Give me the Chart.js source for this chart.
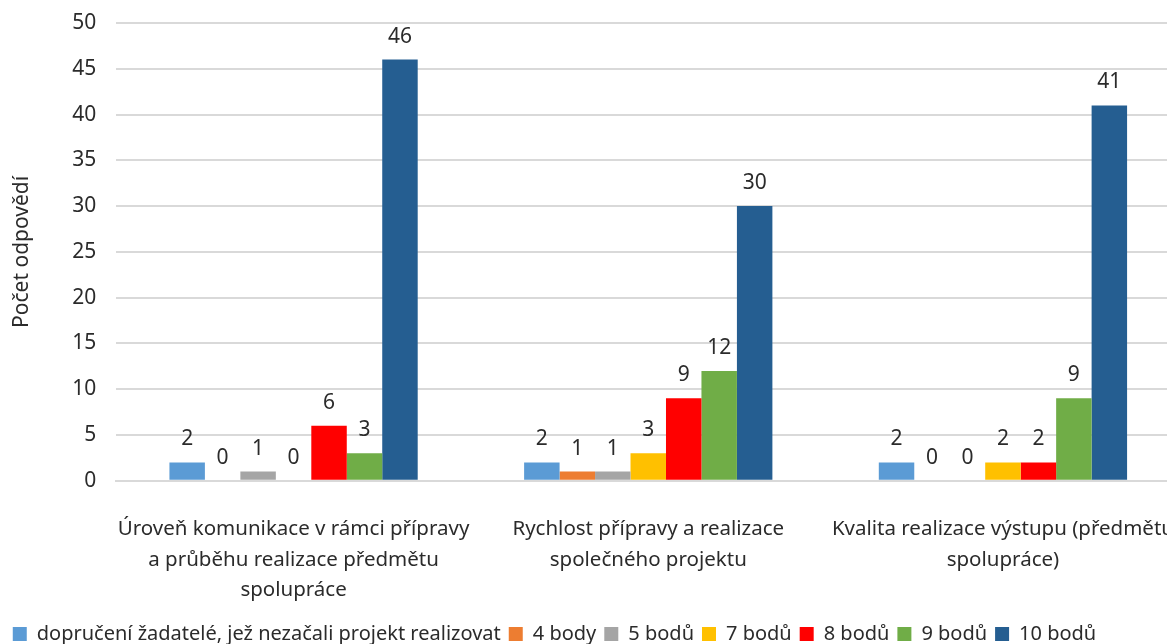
<!DOCTYPE html>
<html>
<head>
<meta charset="utf-8">
<script src="https://cdn.jsdelivr.net/npm/chart.js@4/dist/chart.umd.min.js"></script>
<style>
  html, body { margin: 0; padding: 0; background: #fff; overflow: hidden; }
  #wrap { width: 1199px; height: 644px; }
</style>
</head>
<body>
<div id="wrap"><canvas id="ratingChart"></canvas></div>
<script>
// categories (x axis)
const categories = [
    ['Úroveň komunikace v rámci přípravy', 'a průběhu realizace předmětu', 'spolupráce'],
    ['Rychlost přípravy a realizace', 'společného projektu'],
    ['Kvalita realizace výstupu (předmětu', 'spolupráce)']
];

// series names and values
const seriesNames = ['dopručení žadatelé, jež nezačali projekt realizovat', '4 body', '5 bodů', '7 bodů', '8 bodů', '9 bodů', '10 bodů'];
const recommended = [2, 2, 2];
const points4 = [0, 1, 0];
const points5 = [1, 1, 0];
const points7 = [0, 3, 2];
const points8 = [6, 9, 2];
const points9 = [3, 12, 9];
const points10 = [46, 30, 41];

const seriesColors = ['#5B9BD5', '#ED7D31', '#A5A5A5', '#FFC000', '#FF0000', '#70AD47', '#255E91'];
const allValues = [recommended, points4, points5, points7, points8, points9, points10];

const fontFamily = '"Noto Sans", sans-serif';
const textColor = '#2b2b2b';

// draws the value above each bar
const valueLabels = {
    id: 'valueLabels',
    afterDatasetsDraw(chart) {
        const ctx = chart.ctx;
        ctx.save();
        ctx.font = '21px ' + fontFamily;
        ctx.fillStyle = textColor;
        ctx.textAlign = 'center';
        ctx.textBaseline = 'middle';
        chart.data.datasets.forEach((ds, i) => {
            chart.getDatasetMeta(i).data.forEach((bar, j) => {
                ctx.fillText(String(ds.data[j]), bar.x, bar.y - 23);
            });
        });
        ctx.restore();
    }
};

// move the legend a bit, like in the original
const legendShift = {
    id: 'legendShift',
    afterLayout(chart) {
        const lg = chart.legend;
        lg.left -= 45;
        lg.right -= 45;
        lg.top -= 15;
        lg.bottom -= 15;
    }
};

const ctx = document.getElementById('ratingChart').getContext('2d');
new Chart(ctx, {
    type: 'bar',
    data: {
        labels: categories,
        datasets: seriesNames.map((name, i) => ({
            label: name,
            data: allValues[i],
            backgroundColor: seriesColors[i],
            borderWidth: 0,
            barPercentage: 1,
            categoryPercentage: 0.70
        }))
    },
    options: {
        responsive: true,
        maintainAspectRatio: false,
        animation: false,
        layout: { padding: { top: 23, left: 0, right: 0, bottom: -25 } },
        plugins: {
            legend: {
                position: 'bottom',
                labels: {
                    font: { family: fontFamily, size: 20 },
                    color: textColor,
                    boxWidth: 14,
                    boxHeight: 14,
                    padding: 8
                }
            },
            tooltip: { enabled: false }
        },
        scales: {
            x: {
                grid: { display: false },
                border: { color: '#D9D9D9', width: 2 },
                ticks: {
                    font: { family: fontFamily, size: 20.5, lineHeight: 1.5 },
                    color: textColor,
                    maxRotation: 0,
                    autoSkip: false,
                    padding: 25
                }
            },
            y: {
                min: 0,
                max: 50,
                ticks: {
                    stepSize: 5,
                    font: { family: fontFamily, size: 21 },
                    color: textColor,
                    padding: 0
                },
                grid: {
                    color: '#D9D9D9',
                    lineWidth: 2,
                    drawTicks: true,
                    tickLength: 20,
                    tickColor: 'rgba(0,0,0,0)'
                },
                border: { display: false },
                title: {
                    display: true,
                    text: 'Počet odpovědí',
                    font: { family: fontFamily, size: 21 },
                    color: textColor,
                    padding: { top: 9, bottom: 38 }
                }
            }
        }
    },
    plugins: [valueLabels, legendShift]
});
</script>
</body>
</html>
